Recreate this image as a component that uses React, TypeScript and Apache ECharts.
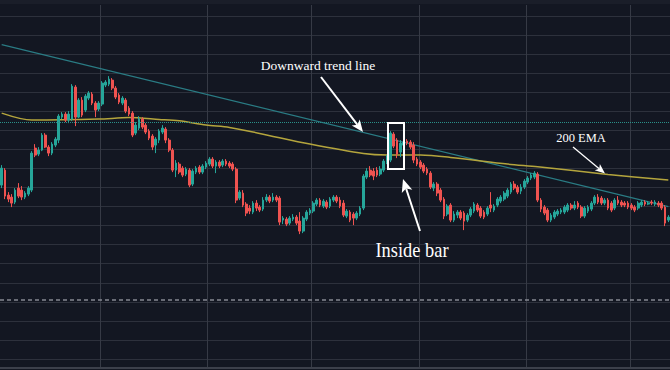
import React, { useEffect, useRef } from "react";
import * as echarts from "echarts";

// Candle values (price units)
const opens = [
  212, 227, 202, 200, 195, 209, 207, 200, 203, 207, 249, 243, 247, 262, 250, 244, 252, 257, 280, 283,
  277, 278, 310, 280, 297, 287, 299, 303, 294, 288, 293, 312, 313, 317, 309, 302, 294, 297, 289, 284,
  264, 269, 278, 272, 266, 261, 252, 257, 265, 268, 257, 247, 227, 233, 229, 223, 227, 213, 225, 230,
  225, 230, 233, 238, 231, 235, 232, 236, 234, 233, 228, 199, 204, 193, 189, 185, 194, 190, 188, 197,
  200, 197, 200, 199, 177, 178, 174, 178, 180, 176, 166, 178, 184, 186, 193, 197, 191, 195, 191, 197,
  200, 197, 194, 181, 185, 183, 179, 183, 189, 220, 227, 226, 227, 223, 227, 235, 237, 263, 257, 245,
  252, 256, 255, 252, 238, 235, 232, 228, 224, 209, 213, 207, 198, 183, 192, 177, 182, 185, 184, 177,
  182, 186, 192, 189, 185, 183, 192, 187, 192, 196, 198, 201, 205, 213, 210, 206, 210, 215, 219, 220,
  223, 197, 190, 187, 177, 180, 183, 185, 185, 187, 192, 189, 194, 190, 181, 186, 188, 194, 200, 199,
  194, 197, 194, 189, 197, 195, 194, 194, 192, 190, 189, 192, 195, 193, 195, 193, 194, 194, 190, 177,
];
const closes = [
  229, 201, 198, 194, 207, 201, 200, 204, 209, 244, 242, 247, 262, 250, 244, 253, 258, 281, 283, 277,
  283, 311, 280, 297, 282, 301, 304, 294, 287, 294, 314, 315, 318, 309, 300, 295, 299, 286, 283, 262,
  272, 278, 270, 265, 259, 250, 258, 266, 269, 257, 247, 227, 234, 225, 222, 228, 212, 226, 229, 225,
  231, 234, 238, 231, 235, 231, 236, 233, 231, 228, 197, 205, 192, 184, 186, 194, 189, 187, 197, 200,
  196, 200, 197, 175, 179, 173, 179, 180, 174, 166, 179, 185, 187, 194, 197, 192, 196, 190, 198, 200,
  196, 191, 182, 186, 177, 179, 184, 189, 221, 226, 222, 221, 222, 228, 236, 240, 264, 251, 243, 254,
  255, 254, 250, 237, 233, 230, 226, 224, 210, 213, 204, 197, 181, 191, 177, 183, 185, 179, 176, 182,
  188, 193, 187, 181, 180, 189, 189, 191, 198, 200, 204, 207, 213, 209, 205, 210, 216, 219, 222, 224,
  197, 188, 184, 177, 182, 185, 186, 187, 190, 192, 189, 192, 190, 181, 189, 190, 194, 200, 195, 194,
  197, 189, 187, 197, 194, 192, 192, 190, 189, 187, 194, 195, 193, 194, 194, 195, 192, 189, 174, 180,
];
const lows = [
  209, 198, 195, 190, 193, 199, 197, 198, 201, 205, 240, 241, 246, 249, 241, 242, 250, 254, 278, 275,
  274, 276, 271, 279, 280, 285, 297, 292, 280, 286, 291, 310, 311, 307, 298, 293, 292, 284, 281, 260,
  262, 267, 268, 263, 257, 247, 244, 254, 263, 254, 245, 225, 220, 223, 220, 221, 210, 211, 223, 223,
  223, 228, 231, 229, 224, 229, 230, 231, 229, 226, 194, 197, 190, 181, 183, 183, 186, 185, 186, 195,
  194, 195, 195, 172, 173, 171, 172, 176, 172, 163, 164, 176, 182, 184, 191, 190, 189, 188, 189, 195,
  194, 189, 180, 179, 175, 172, 177, 181, 187, 218, 220, 217, 220, 221, 225, 233, 235, 249, 239, 240,
  250, 252, 248, 234, 231, 228, 224, 222, 208, 206, 201, 195, 178, 181, 175, 175, 179, 177, 167, 175,
  180, 184, 185, 179, 178, 181, 185, 185, 190, 194, 196, 199, 203, 207, 203, 203, 208, 213, 217, 218,
  195, 185, 182, 175, 175, 178, 181, 183, 183, 185, 187, 187, 188, 179, 179, 184, 186, 192, 193, 192,
  192, 187, 185, 187, 192, 190, 190, 188, 187, 185, 187, 190, 191, 192, 192, 191, 190, 187, 171, 175,
];
const highs = [
  232, 229, 205, 203, 209, 214, 211, 206, 211, 246, 253, 250, 264, 264, 252, 255, 260, 283, 285, 285,
  286, 313, 312, 299, 300, 303, 306, 305, 296, 296, 316, 317, 321, 319, 311, 304, 301, 299, 291, 286,
  275, 281, 280, 274, 268, 263, 260, 268, 272, 270, 259, 249, 237, 235, 231, 230, 229, 228, 231, 232,
  233, 236, 240, 240, 237, 237, 238, 238, 236, 235, 230, 207, 207, 195, 192, 196, 197, 192, 200, 203,
  202, 204, 202, 201, 181, 180, 181, 183, 182, 185, 181, 187, 189, 196, 199, 199, 198, 197, 200, 202,
  202, 200, 197, 188, 187, 185, 186, 191, 223, 229, 231, 229, 230, 231, 238, 242, 266, 265, 259, 257,
  258, 258, 257, 255, 240, 237, 234, 230, 226, 215, 215, 209, 200, 193, 194, 186, 187, 187, 186, 184,
  190, 195, 194, 191, 187, 191, 205, 193, 200, 202, 206, 209, 215, 216, 212, 213, 218, 221, 224, 226,
  225, 199, 192, 189, 184, 187, 188, 189, 192, 194, 194, 196, 196, 192, 191, 192, 196, 202, 203, 201,
  199, 199, 196, 199, 201, 197, 196, 196, 194, 192, 196, 197, 197, 196, 197, 197, 196, 196, 192, 182,
];

// 200 EMA, read at a few candle positions
const emaIndex = [0, 9, 29, 38, 47, 53, 61, 68, 77, 92, 108, 115, 125, 134, 151, 160, 181, 199];
const emaValue = [284, 277, 278, 279.5, 277.7, 276.3, 272, 269.7, 263.7, 253, 243.5, 242, 242, 239.7, 233, 230.3, 222.7, 217];

// Downward trend line end points
const trendIndex = [0, 199];
const trendValue = [352.6, 190.4];

// Horizontal levels
const dottedLevel = 275;
const dashedLevel = 97;

// Category positions of the vertical grid lines
const verticalGridAt = [30, 62, 93, 125, 157, 188];

const Y_STEP = 343 / 18;

export default function App() {
  const ref = useRef<HTMLDivElement>(null);

  useEffect(() => {
    if (!ref.current) return;
    const chart = echarts.init(ref.current, undefined, { renderer: "svg" });
    const categories = opens.map((_, i) => String(i + 1));
    const candles = opens.map((o, i) => [o, closes[i], lows[i], highs[i]]);
    const serif = "'Liberation Serif', 'DejaVu Serif', serif";

    const option: any = {
      animation: false,
      backgroundColor: "#131722",
      grid: [
        { left: 0, right: 0, top: 16, bottom: 11 },
        { left: 0, right: 0, top: 5, bottom: 2 },
      ],
      xAxis: [
        {
          type: "category",
          gridIndex: 0,
          data: categories,
          boundaryGap: true,
          axisLine: { show: false },
          axisTick: { show: false },
          axisLabel: { show: false },
          splitLine: { show: false },
        },
        {
          type: "category",
          gridIndex: 1,
          data: categories,
          boundaryGap: true,
          axisLine: { show: true, lineStyle: { color: "#3c404b", width: 2 } },
          axisTick: { show: false },
          axisLabel: { show: false },
          splitLine: {
            show: true,
            interval: (i: number) => verticalGridAt.includes(i),
            lineStyle: { color: "#363a45", width: 1 },
          },
        },
      ],
      yAxis: [
        {
          type: "value",
          gridIndex: 0,
          min: 2 * Y_STEP,
          max: 20 * Y_STEP,
          interval: Y_STEP,
          axisLine: { show: false },
          axisTick: { show: false },
          axisLabel: { show: false },
          splitLine: { show: true, lineStyle: { color: "#2d313c", width: 1 } },
        },
        { type: "value", gridIndex: 1, min: 0, max: 1, show: false, splitLine: { show: false } },
      ],
      series: [
        {
          type: "line",
          xAxisIndex: 0,
          yAxisIndex: 0,
          data: trendIndex.map((x, i) => [x, trendValue[i]]),
          showSymbol: false,
          lineStyle: { color: "#2a7c84", width: 1.3 },
          z: 1,
          silent: true,
        },
        {
          type: "line",
          xAxisIndex: 0,
          yAxisIndex: 0,
          data: emaIndex.map((x, i) => [x, emaValue[i]]),
          showSymbol: false,
          smooth: 0.3,
          lineStyle: { color: "#b4a53d", width: 1.5 },
          z: 1,
          silent: true,
        },
        {
          type: "candlestick",
          xAxisIndex: 0,
          yAxisIndex: 0,
          data: candles,
          barWidth: 2.2,
          z: 3,
          itemStyle: {
            color: "#26a69a",
            color0: "#ef5350",
            borderColor: "#26a69a",
            borderColor0: "#ef5350",
            borderWidth: 1,
          },
          markLine: {
            silent: true,
            symbol: ["none", "none"],
            label: { show: false },
            data: [
              { yAxis: dottedLevel, lineStyle: { color: "#2a8f88", type: "dotted", width: 1 } },
              { yAxis: dashedLevel, lineStyle: { color: "#868993", type: [4, 3], width: 1.5 } },
            ],
          },
        },
      ],
      graphic: [
        { type: "rect", silent: true, z: 1, shape: { x: 0, y: 0, width: 670, height: 4 }, style: { fill: "#1a1e29" } },
        {
          type: "text", z: 100, x: 318, y: 65,
          style: { text: "Downward trend line", fill: "#ffffff", fontSize: 13.5, fontFamily: serif, align: "center", verticalAlign: "middle", textAlign: "center", textVerticalAlign: "middle" },
        },
        { type: "line", z: 100, shape: { x1: 321, y1: 77, x2: 357.5, y2: 124.8 }, style: { stroke: "#ffffff", lineWidth: 2 } },
        { type: "polygon", z: 100, shape: { points: [[363, 132], [351.7, 125.5], [357.5, 124.8], [359.7, 119.5]] }, style: { fill: "#ffffff" } },
        {
          type: "text", z: 100, x: 581, y: 137.5,
          style: { text: "200 EMA", fill: "#ffffff", fontSize: 12.5, fontFamily: serif, align: "center", verticalAlign: "middle", textAlign: "center", textVerticalAlign: "middle" },
        },
        { type: "line", z: 100, shape: { x1: 573, y1: 147, x2: 599.2, y2: 168.7 }, style: { stroke: "#ffffff", lineWidth: 1.3 } },
        { type: "polygon", z: 100, shape: { points: [[605, 173.5], [594.7, 170.2], [599.2, 168.7], [599.9, 164.0]] }, style: { fill: "#ffffff" } },
        { type: "rect", z: 100, shape: { x: 388, y: 123, width: 16, height: 46 }, style: { fill: "transparent", stroke: "#ffffff", lineWidth: 2 } },
        { type: "line", z: 100, shape: { x1: 420, y1: 231, x2: 406.1, y2: 188.5 }, style: { stroke: "#ffffff", lineWidth: 2 } },
        { type: "polygon", z: 100, shape: { points: [[403, 179], [412.3, 189.7], [406.1, 188.5], [401.8, 193.1]] }, style: { fill: "#ffffff" } },
        {
          type: "text", z: 100, x: 412, y: 250, scaleX: 0.92,
          style: { text: "Inside bar", fill: "#ffffff", fontSize: 20, fontFamily: serif, align: "center", verticalAlign: "middle", textAlign: "center", textVerticalAlign: "middle" },
        },
      ],
    };

    chart.setOption(option);
    return () => chart.dispose();
  }, []);

  return (
    <div
      ref={ref}
      style={{ position: "fixed", left: 0, top: 0, width: 670, height: 370 }}
    />
  );
}
